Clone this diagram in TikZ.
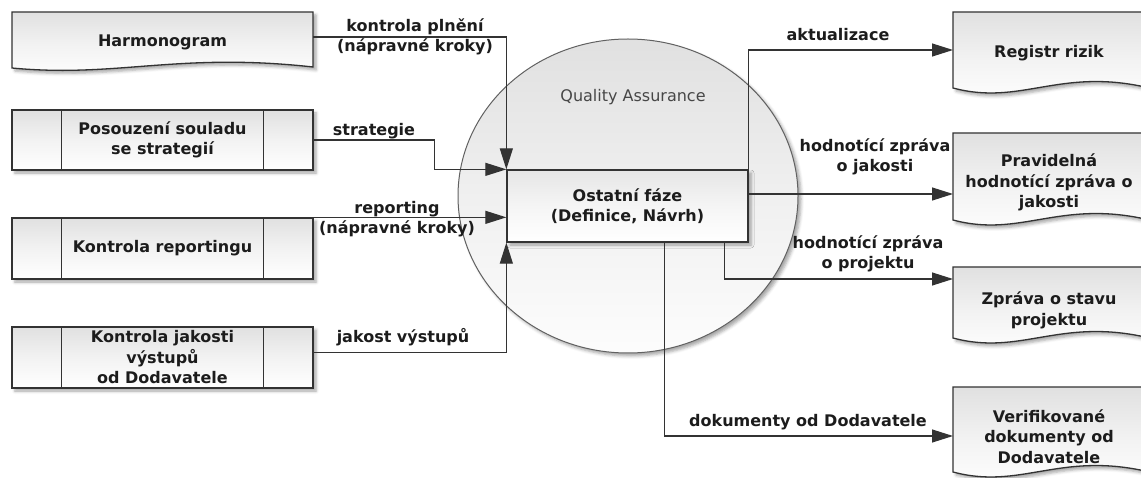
\documentclass[tikz,border=0pt]{standalone}
\usepackage{fontspec}
\setmainfont{DejaVu Sans}
\usetikzlibrary{arrows.meta,calc,shapes.geometric,shadows.blur}
\definecolor{edge}{HTML}{333333}
\definecolor{ink}{HTML}{1C1C1C}
\tikzset{
  lbl/.style={font=\bfseries\fontsize{16}{20.5}\selectfont, text=ink, align=center, inner sep=0pt},
  boxfill/.style={top color=black!12, bottom color=white, middle color=black!5},
  shade/.style={blur shadow={shadow xshift=3pt, shadow yshift=-3pt, shadow blur radius=3pt, shadow opacity=35}},
  procbox/.style={draw=edge, line width=1.3pt, boxfill, shade, minimum width=301pt, inner sep=0pt, lbl},
  docframe/.style={inner sep=0pt, outer sep=0pt},
  docline/.style={draw=edge, line width=1.3pt, boxfill, shade},
  qabubble/.style={ellipse, draw=black!62, line width=1pt, minimum width=340pt, minimum height=314pt,
    inner sep=0pt, top color=black!12, bottom color=black!1, middle color=black!6, shade},
  flow/.style={draw=edge, line width=1.2pt, -{Triangle[length=21pt,width=13pt]}},
}
% document shape: frame node, wavy bottom outline, then its text on top
\newcommand{\docshape}[8]{%
  \node[docframe, minimum width=#3, minimum height=#4] (#1) at (#2) {};
  \path[docline] (#1.south west) -- (#1.north west) -- (#1.north east) -- ($(#1.south east)+(0,-1)$)
    .. controls ($(#1.south west)!0.55!(#1.south east)+(0,-#6)$) and ($(#1.south west)!0.35!(#1.south east)+(0,#5)$) .. (#1.south west) -- cycle;
  \node[lbl] (#1-text) at ($(#1.center)+(0,#7)$) {#8};
}
% predefined process: box with two inner bars
\newcommand{\procshape}[4]{%
  \node[procbox, minimum height=#3] (#1) at (#2) {#4};
  \draw[edge, line width=1.2pt] ($(#1.north west)+(50,0)$) -- ($(#1.south west)+(50,0)$)
    ($(#1.north east)+(-50,0)$) -- ($(#1.south east)+(-50,0)$);
}
\begin{document}
\begin{tikzpicture}[x=1pt,y=-1pt]
\useasboundingbox (0,0) rectangle (1141,478);

% inputs
\docshape{harm}{162.5,40}{301pt}{56pt}{10}{16}{2}{Harmonogram}
\procshape{pos}{162.5,140}{60pt}{Posouzení souladu\\se strategií}
\procshape{rep}{162.5,248.5}{61pt}{Kontrola reportingu}
\procshape{kj}{162.5,357.5}{61pt}{Kontrola jakosti\\výstupů\\od Dodavatele}

% outputs
\docshape{reg}{1049,50}{192pt}{76pt}{18}{20}{3}{Registr rizik}
\docshape{prav}{1049,176.5}{192pt}{87pt}{18}{20}{6}{Pravidelná\\hodnotící zpráva o\\jakosti}
\docshape{zpr}{1049,302.5}{192pt}{71pt}{18}{20}{8}{Zpráva o stavu\\projektu}
\docshape{ver}{1049,429.5}{192pt}{85pt}{18}{20}{7}{Verifikované\\dokumenty od\\Dodavatele}

% Quality Assurance container
\node[qabubble] (qa) at (628,196) {};
\node[font=\fontsize{16}{20}\selectfont, text=black!72, inner sep=0pt] (qa-title) at (633,97) {Quality Assurance};

% central process
\node[procbox, minimum width=241pt, minimum height=72pt, top color=black!10, bottom color=white, middle color=black!4]
  (of) at (627.5,206) {Ostatní fáze\\(Definice, Návrh)};

% connector end points on box edges
\coordinate (harm-out) at ($(harm.east)+(0,-3)$);
\coordinate (kj-out) at ($(kj.east)+(0,-5)$);
\coordinate (of-q) at ($(of.east)+(0,-12)$);
\coordinate (of-p) at ($(of.south east)+(-24,0)$);
\coordinate (of-d) at ($(of.south east)+(-84,0)$);
\coordinate (zpr-in) at ($(zpr.north west)+(0,12)$);
\coordinate (ver-in) at ($(ver.north west)+(0,49)$);

% incoming flows
\draw[flow] (harm-out) -| (of.north west);
\draw[flow] (pos.east) -- ++(121,0) |- (of.north west);
\draw[flow] (rep.north east) -- (rep.north east -| of.west);
\draw[flow] (kj-out) -| (of.south west);

% outgoing flows
\draw[flow] (of.north east) |- (reg.west);
\draw[flow] (of-q) -- (of-q -| prav.west);
\draw[flow] (of-p) |- (zpr-in);
\draw[flow] (of-d) |- (ver-in);

% flow labels
\node[lbl] (l-harm) at (415,37) {kontrola plnění\\(nápravné kroky)};
\node[lbl] (l-pos) at (374,131) {strategie};
\node[lbl] (l-rep) at (397,219) {reporting\\(nápravné kroky)};
\node[lbl] (l-kj) at (403,337) {jakost výstupů};
\node[lbl] (l-reg) at (838,35) {aktualizace};
\node[lbl] (l-prav) at (875,157) {hodnotící zpráva\\o jakosti};
\node[lbl] (l-zpr) at (868,254) {hodnotící zpráva\\o projektu};
\node[lbl] (l-ver) at (808,422) {dokumenty od Dodavatele};
\end{tikzpicture}
\end{document}
